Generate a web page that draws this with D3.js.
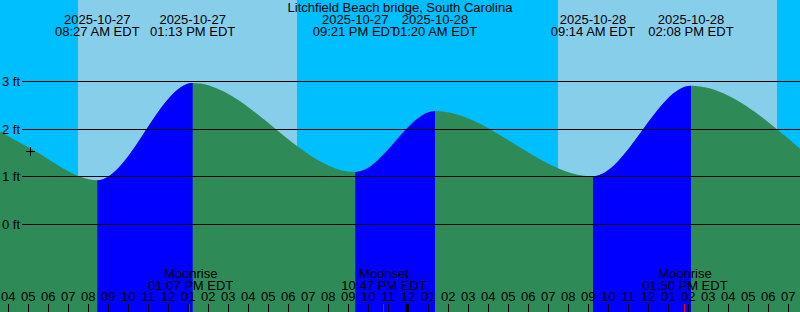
<!DOCTYPE html>
<html>
<head>
<meta charset="utf-8">
<script src="https://cdn.jsdelivr.net/npm/d3@7"></script>
<style>
  body { margin: 0; }
  svg { display: block; font-family: "Liberation Sans", Arial, sans-serif; font-size: 13px; }
</style>
</head>
<body>
<script>
// chart window and station
const title = "Litchfield Beach bridge, South Carolina";
const startTime = "2025-10-27 03:35";
const endTime = "2025-10-28 19:35";

// tide curve readings (ft)
const tideTimes = ["2025-10-27 03:35", "2025-10-27 05:05", "2025-10-27 08:27", "2025-10-27 13:13",
  "2025-10-27 21:21", "2025-10-28 01:20", "2025-10-28 09:14", "2025-10-28 14:08", "2025-10-28 19:35"];
const tideHeights = [1.95, 1.60, 0.93, 2.97, 1.10, 2.38, 1.01, 2.91, 1.59];

// high / low events
const eventTimes = ["2025-10-27 08:27", "2025-10-27 13:13", "2025-10-27 21:21",
  "2025-10-28 01:20", "2025-10-28 09:14", "2025-10-28 14:08"];
const eventKinds = ["low", "high", "low", "high", "low", "high"];

// daylight
const sunrises = ["2025-10-27 07:29", "2025-10-28 07:29"];
const sunsets = ["2025-10-27 18:26", "2025-10-28 18:26"];

// moon
const moonTimes = ["2025-10-27 13:07", "2025-10-27 22:47", "2025-10-28 13:50"];
const moonLabels = ["Moonrise", "Moonset", "Moonrise"];

const heightTicks = [0, 1, 2, 3];
const nowTime = "2025-10-27 05:05";
const nowHeight = 1.55;

const W = 800, H = 312;
const parse = d3.utcParse("%Y-%m-%d %H:%M");
const fmtDate = d3.utcFormat("%Y-%m-%d");
const fmtTime = d3.utcFormat("%I:%M %p EDT");

const x = d3.scaleUtc().domain([parse(startTime), parse(endTime)]).range([0, W]);
const y = d3.scaleLinear().domain([0, 3]).range([224.5, 81.5]);

const svg = d3.select("body").append("svg").attr("width", W).attr("height", H);

// sky: night then day bands
svg.append("rect").attr("width", W).attr("height", H).attr("fill", "#00bfff");
svg.selectAll(".day").data(d3.zip(sunrises, sunsets)).enter().append("rect")
  .attr("x", d => x(parse(d[0])))
  .attr("width", d => x(parse(d[1])) - x(parse(d[0])))
  .attr("y", 0).attr("height", H)
  .attr("fill", "#87ceeb");

// water area
const pts = tideTimes.map((t, i) => [parse(t), tideHeights[i]]);
const area = d3.area().curve(d3.curveMonotoneX)
  .x(d => x(d[0])).y0(H).y1(d => y(d[1]));

svg.append("clipPath").attr("id", "water").append("path").attr("d", area(pts));
const water = svg.append("g").attr("clip-path", "url(#water)");
water.append("rect").attr("width", W).attr("height", H).attr("fill", "#2e8b57");

// flood tide: low -> next high
const floods = [];
eventKinds.forEach((k, i) => {
  if (k === "low" && i + 1 < eventTimes.length) floods.push([eventTimes[i], eventTimes[i + 1]]);
});
water.selectAll(".flood").data(floods).enter().append("rect")
  .attr("x", d => x(parse(d[0])))
  .attr("width", d => x(parse(d[1])) - x(parse(d[0])))
  .attr("y", 0).attr("height", H)
  .attr("fill", "#0000ff");

// height lines + labels
const py = v => Math.round(y(v) - 0.5) + 0.5;
svg.selectAll(".hline").data(heightTicks).enter().append("line")
  .attr("x1", 22).attr("x2", W)
  .attr("y1", py).attr("y2", py)
  .attr("stroke", "#000");
svg.selectAll(".hlabel").data(heightTicks).enter().append("text")
  .attr("x", 2).attr("y", d => py(d) + 4.5)
  .text(d => d + " ft");

// now marker
const nx = Math.round(x(parse(nowTime))) + 0.5, ny = Math.round(y(nowHeight)) + 0.5;
svg.append("path")
  .attr("d", `M${nx - 4.5},${ny}H${nx + 4.5}M${nx},${ny - 4.5}V${ny + 4.5}`)
  .attr("stroke", "#000");

// title + event labels
svg.append("text").attr("x", W / 2).attr("y", 12).attr("text-anchor", "middle").text(title);
const ev = svg.selectAll(".ev").data(eventTimes.map(parse)).enter().append("text")
  .attr("text-anchor", "middle");
ev.append("tspan").attr("x", d => x(d)).attr("y", 24).text(fmtDate);
ev.append("tspan").attr("x", d => x(d)).attr("y", 36).text(fmtTime);

// moon labels
const mv = svg.selectAll(".moon").data(moonTimes.map(parse)).enter().append("text")
  .attr("text-anchor", "middle");
mv.append("tspan").attr("x", d => x(d)).attr("y", 278).text((d, i) => moonLabels[i]);
mv.append("tspan").attr("x", d => x(d)).attr("y", 290).text(fmtTime);

// hour axis
const hours = d3.utcHour.range(x.domain()[0], x.domain()[1]);
svg.selectAll(".hl").data(hours).enter().append("text")
  .attr("x", d => x(d)).attr("y", 301).attr("text-anchor", "middle")
  .text(d3.utcFormat("%I"));
svg.selectAll(".tick").data(hours).enter().append("rect")
  .attr("x", d => d.getUTCHours() === 0 ? Math.floor(x(d)) - 2 : Math.floor(x(d)))
  .attr("width", d => d.getUTCHours() === 0 ? 3 : 1)
  .attr("y", 304).attr("height", 8)
  .attr("fill", "#000");
svg.selectAll(".mtick").data(moonTimes.map(parse)).enter().append("rect")
  .attr("x", d => Math.floor(x(d)) - 1).attr("width", 1)
  .attr("y", 304).attr("height", 8)
  .attr("fill", "#ff0000");
</script>
</body>
</html>
